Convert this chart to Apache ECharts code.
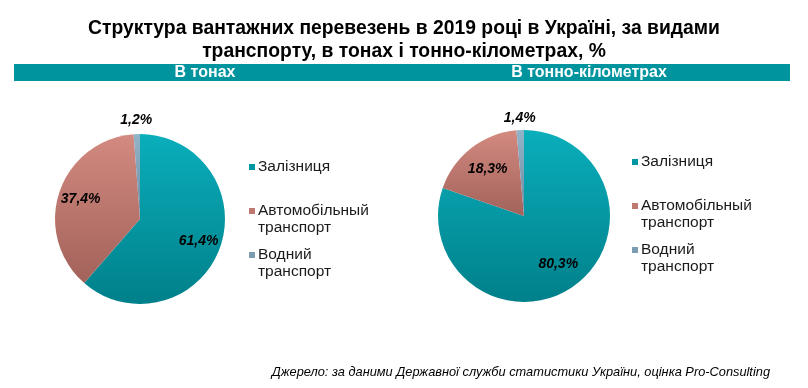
<!DOCTYPE html>
<html>
<head>
<meta charset="utf-8">
<script src="https://cdn.jsdelivr.net/npm/echarts@6/dist/echarts.min.js"></script>
<style>
html,body{margin:0;padding:0;background:#fff;}
#chart{width:808px;height:388px;}
</style>
</head>
<body>
<div id="chart"></div>
<script>
const titleLines = ['Структура вантажних перевезень в 2019 році в Україні, за видами', 'транспорту, в тонах і тонно-кілометрах, %'];
const panelTitles = ['В тонах', 'В тонно-кілометрах'];
const categories = ['Залізниця', 'Автомобільный\nтранспорт', 'Водний\nтранспорт'];
const legendLabels = ['Залізниця\n', 'Автомобільный\nтранспорт', 'Водний\nтранспорт'];
const valuesTons = [61.4, 37.4, 1.2];
const valuesTonKm = [80.3, 18.3, 1.4];
const sourceText = 'Джерело: за даними Державної служби статистики України, оцінка Pro-Consulting';

function grad(c1, c2) {
  return {type: 'linear', x: 0, y: 0, x2: 0, y2: 1, colorStops: [{offset: 0, color: c1}, {offset: 1, color: c2}]};
}
const colors = [grad('#0AAEBB', '#00808A'), grad('#D38A80', '#A2625A'), grad('#93B3C8', '#6C8CA2')];
const legendColors = ['#0097A2', '#BE7A70', '#7C9CB2'];

const fmt = v => v.toFixed(1).replace('.', ',') + '%';
const labelStyle = {color: '#000', fontFamily: 'Liberation Sans, Arial, sans-serif', fontSize: 14, fontWeight: 'bold', fontStyle: 'italic'};

// condensed title: scale Liberation Sans Bold horizontally to match narrow face
const titleFont = 'bold 20px "Liberation Sans", Arial, sans-serif';
const mctx = document.createElement('canvas').getContext('2d');
mctx.font = titleFont;
const titleScale = 632 / mctx.measureText(titleLines[0]).width;

function mainSeries(vals, center, r) {
  return {
    type: 'pie', center: center, radius: [0, r], startAngle: 90, clockwise: true,
    label: {show: false}, labelLine: {show: false},
    itemStyle: {borderWidth: 0},
    emphasis: {disabled: true},
    data: categories.map((c, i) => ({name: c, value: vals[i], itemStyle: {color: colors[i]}}))
  };
}
function labelSeries(vals, center, radius, showIdx) {
  return {
    type: 'pie', center: center, radius: radius, startAngle: 90, clockwise: true, silent: true,
    legendHoverLink: false, emphasis: {disabled: true},
    itemStyle: {color: 'rgba(0,0,0,0)', borderWidth: 0},
    labelLine: {show: false},
    data: categories.map((c, i) => ({
      name: c, value: vals[i],
      label: Object.assign({show: showIdx.includes(i), position: 'inside', formatter: p => fmt(p.value)}, labelStyle)
    }))
  };
}
const legendIcon = 'path://M0,0L6,0L6,6L0,6ZM0,22L0,22';
function legendCfg(left, top) {
  return {
    orient: 'vertical', left: left, top: top, padding: 0, itemGap: 10,
    itemWidth: 6, itemHeight: 22, icon: legendIcon, selectedMode: false,
    itemStyle: {borderWidth: 0},
    textStyle: {fontFamily: 'Liberation Sans, Arial, sans-serif', fontSize: 15.5, lineHeight: 17, color: '#1a1a1a', padding: [0, 0, 0, -2]},
    formatter: name => legendLabels[categories.indexOf(name)],
    data: categories.map((c, i) => ({name: c, itemStyle: {color: legendColors[i]}}))
  };
}

const chart = echarts.init(document.getElementById('chart'), null, {renderer: 'canvas'});
chart.setOption({
  backgroundColor: '#fff',
  animation: false,
  title: [
    {text: panelTitles[0], left: 205, top: 64, padding: 0, textAlign: 'center',
     textStyle: {fontFamily: 'Liberation Sans, Arial, sans-serif', fontSize: 16, fontWeight: 'bold', color: '#fff', lineHeight: 17}},
    {text: panelTitles[1], left: 589, top: 64, padding: 0, textAlign: 'center',
     textStyle: {fontFamily: 'Liberation Sans, Arial, sans-serif', fontSize: 16, fontWeight: 'bold', color: '#fff', lineHeight: 17}},
    {text: sourceText, right: 38, top: 365, padding: 0,
     textStyle: {fontFamily: 'Liberation Sans, Arial, sans-serif', fontSize: 12.8, fontWeight: 'normal', fontStyle: 'italic', color: '#000', lineHeight: 15}}
  ],
  graphic: [
    {type: 'rect', z: -1, shape: {x: 14, y: 64, width: 776, height: 17}, style: {fill: '#00959E'}},
    {type: 'text', x: 404, y: 28, scaleX: titleScale, style: {text: titleLines[0], font: titleFont, fill: '#000', align: 'center', verticalAlign: 'middle'}},
    {type: 'text', x: 404, y: 51, scaleX: titleScale, style: {text: titleLines[1], font: titleFont, fill: '#000', align: 'center', verticalAlign: 'middle'}}
  ],
  legend: [legendCfg(249, 158), legendCfg(632, 153)],
  series: [
    mainSeries(valuesTons, [140, 219], 85),
    labelSeries(valuesTons, [140, 219], [34, 85], [0, 1]),
    labelSeries(valuesTons, [140, 219], [91, 101], [2]),
    mainSeries(valuesTonKm, [524, 216], 86),
    labelSeries(valuesTonKm, [524, 216], [26, 86], [0, 1]),
    labelSeries(valuesTonKm, [524, 216], [90, 100], [2])
  ]
});
</script>
</body>
</html>
